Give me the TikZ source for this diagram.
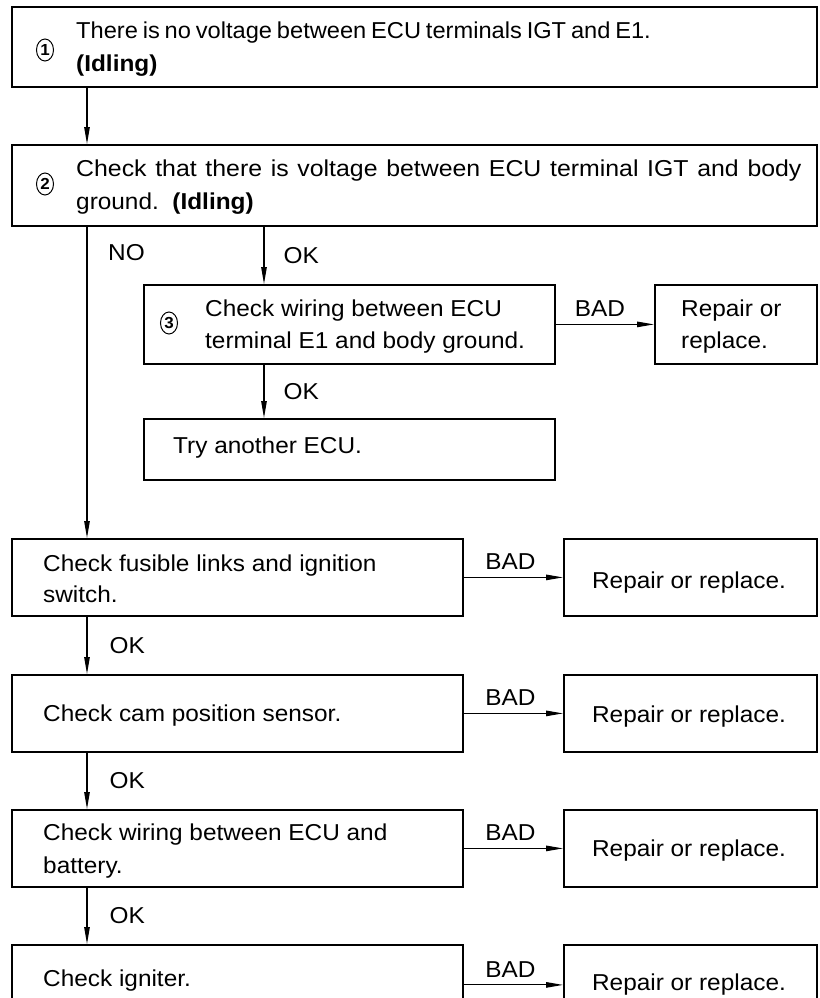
\documentclass[tikz,border=0pt]{standalone}
\usepackage{fontspec}
\setmainfont[FakeStretch=1.06]{Liberation Sans}
\usetikzlibrary{arrows.meta,shapes.geometric}
\begin{document}
\begin{tikzpicture}[x=1pt,y=-1pt,
  box/.style={draw, line width=1.8pt, rectangle, anchor=north west, inner sep=0pt},
  txt/.style={anchor=base west, inner sep=0pt, font=\fontsize{23}{27}\selectfont},
  ctxt/.style={anchor=base, inner sep=0pt, font=\fontsize{23}{27}\selectfont},
  lbl/.style={inner sep=0pt, font=\fontsize{23}{27}\selectfont},
  num/.style={draw, ellipse, line width=1pt, minimum width=17pt, minimum height=22pt, inner sep=0pt, font=\fontsize{16}{16}\selectfont\bfseries},
  arr/.style={line width=1.1pt, -{Triangle[length=17pt,width=5.5pt]}},
]
\useasboundingbox (0,0) rectangle (819,998);
\clip (0,0) rectangle (819,998);

% boxes
\node[box, minimum width=805pt, minimum height=80pt] (b1) at (11,6) {};
\node[box, minimum width=805pt, minimum height=81pt] (b2) at (11,144) {};
\node[box, minimum width=411pt, minimum height=79pt] (b3) at (143,284) {};
\node[box, minimum width=162pt, minimum height=79pt] (r3) at (654,284) {};
\node[box, minimum width=411pt, minimum height=61pt] (t) at (143,418) {};
\node[box, minimum width=451pt, minimum height=77pt] (b4) at (11,538) {};
\node[box, minimum width=253pt, minimum height=77pt] (r4) at (563,538) {};
\node[box, minimum width=451pt, minimum height=77pt] (b5) at (11,674) {};
\node[box, minimum width=253pt, minimum height=77pt] (r5) at (563,674) {};
\node[box, minimum width=451pt, minimum height=77pt] (b6) at (11,809) {};
\node[box, minimum width=253pt, minimum height=77pt] (r6) at (563,809) {};
\node[box, minimum width=451pt, minimum height=80pt] (b7) at (11,944) {};
\node[box, minimum width=253pt, minimum height=80pt] (r7) at (563,944) {};

% circled numbers
\node[num] (n1) at (45,50) {1};
\node[num] (n2) at (45,184) {2};
\node[num] (n3) at (169,323) {3};

% texts
\node[txt] (t1a) at (76,38) {\scalebox{0.97}[1]{\spaceskip=5pt\relax There is no voltage between ECU terminals IGT and E1.}};
\node[txt] (t1b) at (76,71) {\bfseries (Idling)};
\node[txt] (t2a) at (76,176) {\scalebox{1.02}[1]{\spaceskip=8.5pt\relax Check that there is voltage between ECU terminal IGT and body}};
\node[txt] (t2b) at (76,209) {ground.\ \ \textbf{(Idling)}};
\node[txt] (t3a) at (205,316) {Check wiring between ECU};
\node[txt] (t3b) at (205,348) {terminal E1 and body ground.};
\node[txt] (tr3a) at (681,316) {Repair or};
\node[txt] (tr3b) at (681,348) {replace.};
\node[txt] (tt) at (173,453) {Try another ECU.};
\node[txt] (t4a) at (43,571) {Check fusible links and ignition};
\node[txt] (t4b) at (43,602) {switch.};
\node[txt] (t5) at (43,721) {Check cam position sensor.};
\node[txt] (t6a) at (43,840) {Check wiring between ECU and};
\node[txt] (t6b) at (43,873) {battery.};
\node[txt] (t7) at (43,986) {Check igniter.};
\node[ctxt] (tr4) at (689,588) {Repair or replace.};
\node[ctxt] (tr5) at (689,722) {Repair or replace.};
\node[ctxt] (tr6) at (689,856) {Repair or replace.};
\node[ctxt] (tr7) at (689,990) {Repair or replace.};

% connectors
\coordinate (mx) at (87,0);
\coordinate (ox) at (264,0);
\draw[arr] (b1.south -| mx) -- (b2.north -| mx);
\draw[arr] (b2.south -| mx) -- (b4.north -| mx);
\node[lbl, anchor=west] (no) at (108,253) {NO};
\draw[arr] (b2.south -| ox) -- node[lbl, right=19pt] {OK} (b3.north -| ox);
\draw[arr] (b3.south -| ox) -- node[lbl, right=19pt] {OK} (t.north -| ox);
\draw[arr] (b3.east) -- node[lbl, above=7pt, xshift=-5pt] {BAD} (r3.west);
\draw[arr] (b4.south -| mx) -- node[lbl, right=22pt] {OK} (b5.north -| mx);
\draw[arr] (b5.south -| mx) -- node[lbl, right=22pt] {OK} (b6.north -| mx);
\draw[arr] (b6.south -| mx) -- node[lbl, right=22pt] {OK} (b7.north -| mx);
\draw[arr] (b4.east) -- node[lbl, above=7pt, xshift=-3pt] {BAD} (r4.west);
\draw[arr] (b5.east) -- node[lbl, above=7pt, xshift=-3pt] {BAD} (r5.west);
\draw[arr] (b6.east) -- node[lbl, above=7pt, xshift=-3pt] {BAD} (r6.west);
\draw[arr] (b7.east) -- node[lbl, above=7pt, xshift=-3pt] {BAD} (r7.west);
\end{tikzpicture}
\end{document}
